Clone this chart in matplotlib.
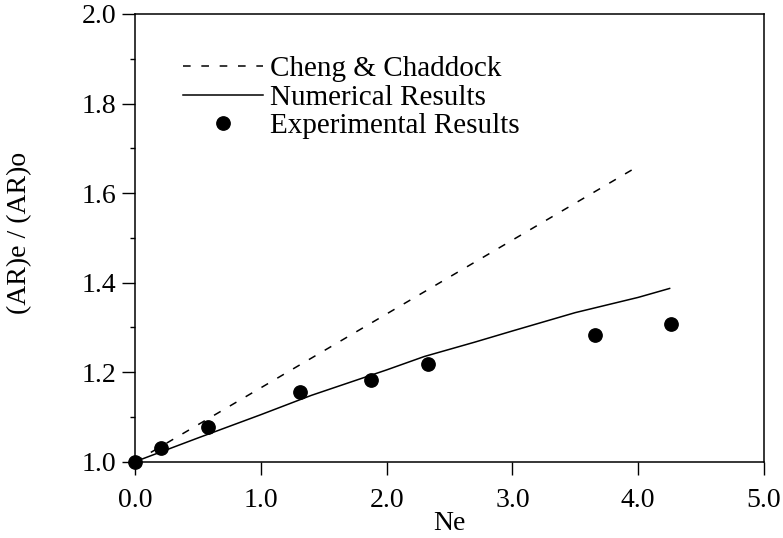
import matplotlib.pyplot as plt
from matplotlib.ticker import MultipleLocator

# Cheng & Chaddock correlation (straight line)
cheng_ne = [0.0, 4.0]
cheng_ratio = [1.0, 1.66]

# numerical results
num_ne = [0.0, 0.5, 1.0, 1.4, 2.0, 2.3, 2.7, 3.0, 3.5, 4.0, 4.25]
num_ratio = [1.0, 1.053, 1.105, 1.148, 1.205, 1.235, 1.267, 1.292, 1.333, 1.367, 1.387]

# experimental results
exp_ne = [0.0, 0.21, 0.58, 1.31, 1.88, 2.33, 3.66, 4.26]
exp_ratio = [1.0, 1.03, 1.078, 1.155, 1.183, 1.218, 1.283, 1.308]

x_ticks = [0.0, 1.0, 2.0, 3.0, 4.0, 5.0]
y_ticks = [1.0, 1.2, 1.4, 1.6, 1.8, 2.0]

plt.rcParams["font.family"] = ["Liberation Serif", "DejaVu Serif"]
fs = 20

fig = plt.figure(figsize=(7.83, 5.38), dpi=100)
ax = fig.add_axes([0.1724, 0.1418, 0.8033, 0.8322])

ax.plot(cheng_ne, cheng_ratio, color="black", lw=1.1, linestyle=(0, (5, 7)),
        label="Cheng & Chaddock")
ax.plot(num_ne, num_ratio, color="black", lw=1.1, label="Numerical Results")
ax.plot(exp_ne, exp_ratio, "o", color="black", markersize=9.6, linestyle="none",
        label="Experimental Results", clip_on=False, zorder=3)

ax.set_xlim(0, 5)
ax.set_ylim(1.0, 2.0)
ax.set_xticks(x_ticks)
ax.set_xticklabels([f"{v:.1f}" for v in x_ticks])
ax.set_yticks(y_ticks)
ax.set_yticklabels([f"{v:.1f}" for v in y_ticks])
ax.yaxis.set_minor_locator(MultipleLocator(0.1))
ax.tick_params(axis="x", which="major", direction="out", length=9, width=1.0,
               pad=10, labelsize=fs)
ax.tick_params(axis="y", which="major", direction="out", length=9.4, width=1.0,
               pad=4, labelsize=fs)
ax.tick_params(axis="y", which="minor", direction="out", length=3.5, width=1.0)
for s in ax.spines.values():
    s.set_linewidth(1.1)

ax.set_xlabel("Ne", fontsize=fs)
ax.xaxis.set_label_coords(0.5, -0.11)
ax.set_ylabel("(AR)e / (AR)o", fontsize=fs)
ax.yaxis.set_label_coords(-0.164, 0.51)

ax.legend(loc="upper left", bbox_to_anchor=(0.076, 0.906), frameon=False,
          handlelength=2.75, handletextpad=0.25, labelspacing=0.07,
          borderpad=0, borderaxespad=0, numpoints=1, fontsize=21)

fig.savefig("out.png", dpi=100)
